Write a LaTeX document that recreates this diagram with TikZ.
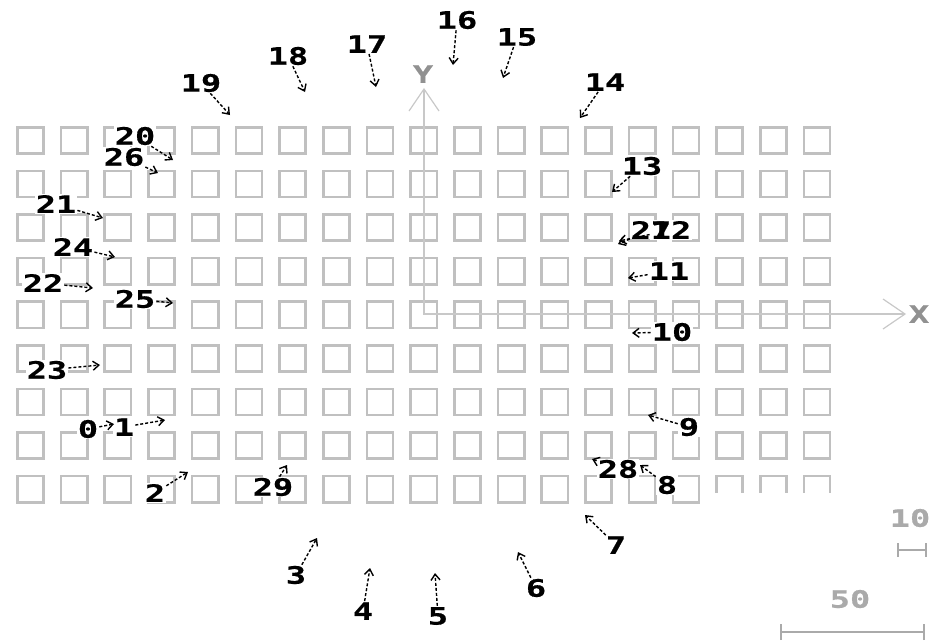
\documentclass[tikz,border=0pt]{standalone}
\usepackage{fontspec}
\usetikzlibrary{arrows.meta}
\newfontfamily\lblfont{DejaVu Sans Mono Bold}[FakeStretch=1.4,FakeBold=0.6]
\definecolor{sqgray}{RGB}{192,192,192}
\definecolor{axgray}{RGB}{200,200,200}
\definecolor{txtgray}{RGB}{170,170,170}
\begin{document}
\begin{tikzpicture}[x=1pt,y=-1pt,
  sq/.style={draw=sqgray,line width=2.6pt},
  axis/.style={draw=axgray,line width=1.6pt},
  lbl/.style={font=\lblfont\fontsize{24}{24}\selectfont,text=black,fill=white,inner sep=1pt},
  glbl/.style={lbl,text=txtgray},
  arr/.style={draw=black,line width=1.4pt,dash pattern=on 3pt off 2pt,-{Straight Barb[length=6pt,width=9pt]}},
  bar/.style={draw=txtgray,line width=2pt}]
\useasboundingbox (0,0) rectangle (933,641);
% grid of squares
\foreach \c in {0,...,18}{
  \foreach \r in {0,...,8}{
    \pgfmathsetmacro\xa{16+\c*43.7}
    \pgfmathsetmacro\ya{126+\r*43.6}
    \pgfmathtruncatemacro\cut{(\r==8)&&(\c>15)}
    \ifnum\cut=1
      \draw[sq] (\xa+1.3,\ya+18) -- (\xa+1.3,\ya+1.3) -- (\xa+27.5,\ya+1.3) -- (\xa+27.5,\ya+18);
    \else
      \draw[sq] (\xa+1.3,\ya+1.3) rectangle (\xa+27.5,\ya+27.5);
    \fi
  }
}
% axes
\coordinate (O) at (424,314);
\coordinate (yt) at (424,89);
\coordinate (xt) at (905,314);
\draw[axis] (yt) -- (O) -- (xt);
\draw[axis,line width=1.2pt] ([shift={(-15,22)}]yt) -- (yt) -- ([shift={(15,22)}]yt);
\draw[axis,line width=1.2pt] ([shift={(-22,-15)}]xt) -- (xt) -- ([shift={(-22,15)}]xt);
\node[glbl,fill=none,text=txtgray!85!black] (ylab) at (423,74) {Y};
\node[glbl,fill=none,text=txtgray!85!black] (xlab) at (919,314) {X};
% scale bars
\coordinate (b10a) at (898,550);
\coordinate (b10b) at (926,550);
\draw[bar] (b10a) -- (b10b);
\draw[bar] ([yshift=-7pt]b10a) -- ([yshift=7pt]b10a);
\draw[bar] ([yshift=-7pt]b10b) -- ([yshift=7pt]b10b);
\node[glbl] (t10) at (910,518) {10};
\coordinate (b50a) at (781,632);
\coordinate (b50b) at (924,632);
\draw[bar] (b50a) -- (b50b);
\draw[bar] ([yshift=-8pt]b50a) -- ([yshift=8pt]b50a);
\draw[bar] ([yshift=-8pt]b50b) -- ([yshift=8pt]b50b);
\node[glbl] (t50) at (850,599) {50};
% target points
\coordinate (p0) at (114,424);
\coordinate (p1) at (165,420);
\coordinate (p2) at (188,472);
\coordinate (p3) at (317,538);
\coordinate (p4) at (370,568);
\coordinate (p5) at (435,573);
\coordinate (p6) at (518,552);
\coordinate (p7) at (585,515);
\coordinate (p8) at (640,465);
\coordinate (p9) at (648,415);
\coordinate (p10) at (632,333);
\coordinate (p11) at (628,278);
\coordinate (p12) at (619,241);
\coordinate (p13) at (612,192);
\coordinate (p14) at (580,118);
\coordinate (p15) at (503,78);
\coordinate (p16) at (453,65);
\coordinate (p17) at (376,87);
\coordinate (p18) at (305,92);
\coordinate (p19) at (230,115);
\coordinate (p20) at (173,160);
\coordinate (p21) at (103,218);
\coordinate (p22) at (93,288);
\coordinate (p23) at (100,365);
\coordinate (p24) at (115,257);
\coordinate (p25) at (173,303);
\coordinate (p26) at (158,173);
\coordinate (p27) at (618,244);
\coordinate (p28) at (592,459);
\coordinate (p29) at (287,465);
% labels
\node[lbl] (l0) at (88,429) {0};
\node[lbl] (l1) at (124,427) {1};
\node[lbl] (l2) at (155,493) {2};
\node[lbl] (l3) at (296,575) {3};
\node[lbl] (l4) at (363,611) {4};
\node[lbl] (l5) at (438,616) {5};
\node[lbl] (l6) at (536,588) {6};
\node[lbl] (l7) at (616,545) {7};
\node[lbl] (l8) at (667,485) {8};
\node[lbl] (l9) at (689,427) {9};
\node[lbl] (l10) at (672,332) {10};
\node[lbl] (l11) at (669,271) {11};
\node[lbl] (l12) at (671,230) {12};
\node[lbl,fill=none] (l27) at (651,230) {27};
\node[lbl] (l13) at (642,166) {13};
\node[lbl] (l14) at (605,82) {14};
\node[lbl] (l15) at (517,37) {15};
\node[lbl] (l16) at (457,20) {16};
\node[lbl] (l17) at (367,44) {17};
\node[lbl] (l18) at (288,56) {18};
\node[lbl] (l19) at (201,83) {19};
\node[lbl] (l20) at (135,136) {20};
\node[lbl] (l26) at (124,157) {26};
\node[lbl] (l21) at (56,204) {21};
\node[lbl] (l22) at (43,283) {22};
\node[lbl] (l23) at (47,370) {23};
\node[lbl] (l24) at (73,247) {24};
\node[lbl] (l25) at (135,299) {25};
\node[lbl] (l28) at (618,469) {28};
\node[lbl] (l29) at (273,487) {29};
% connectors
\foreach \i in {0,...,29}{
  \draw[arr] (l\i) -- (p\i);
}
\end{tikzpicture}
\end{document}
